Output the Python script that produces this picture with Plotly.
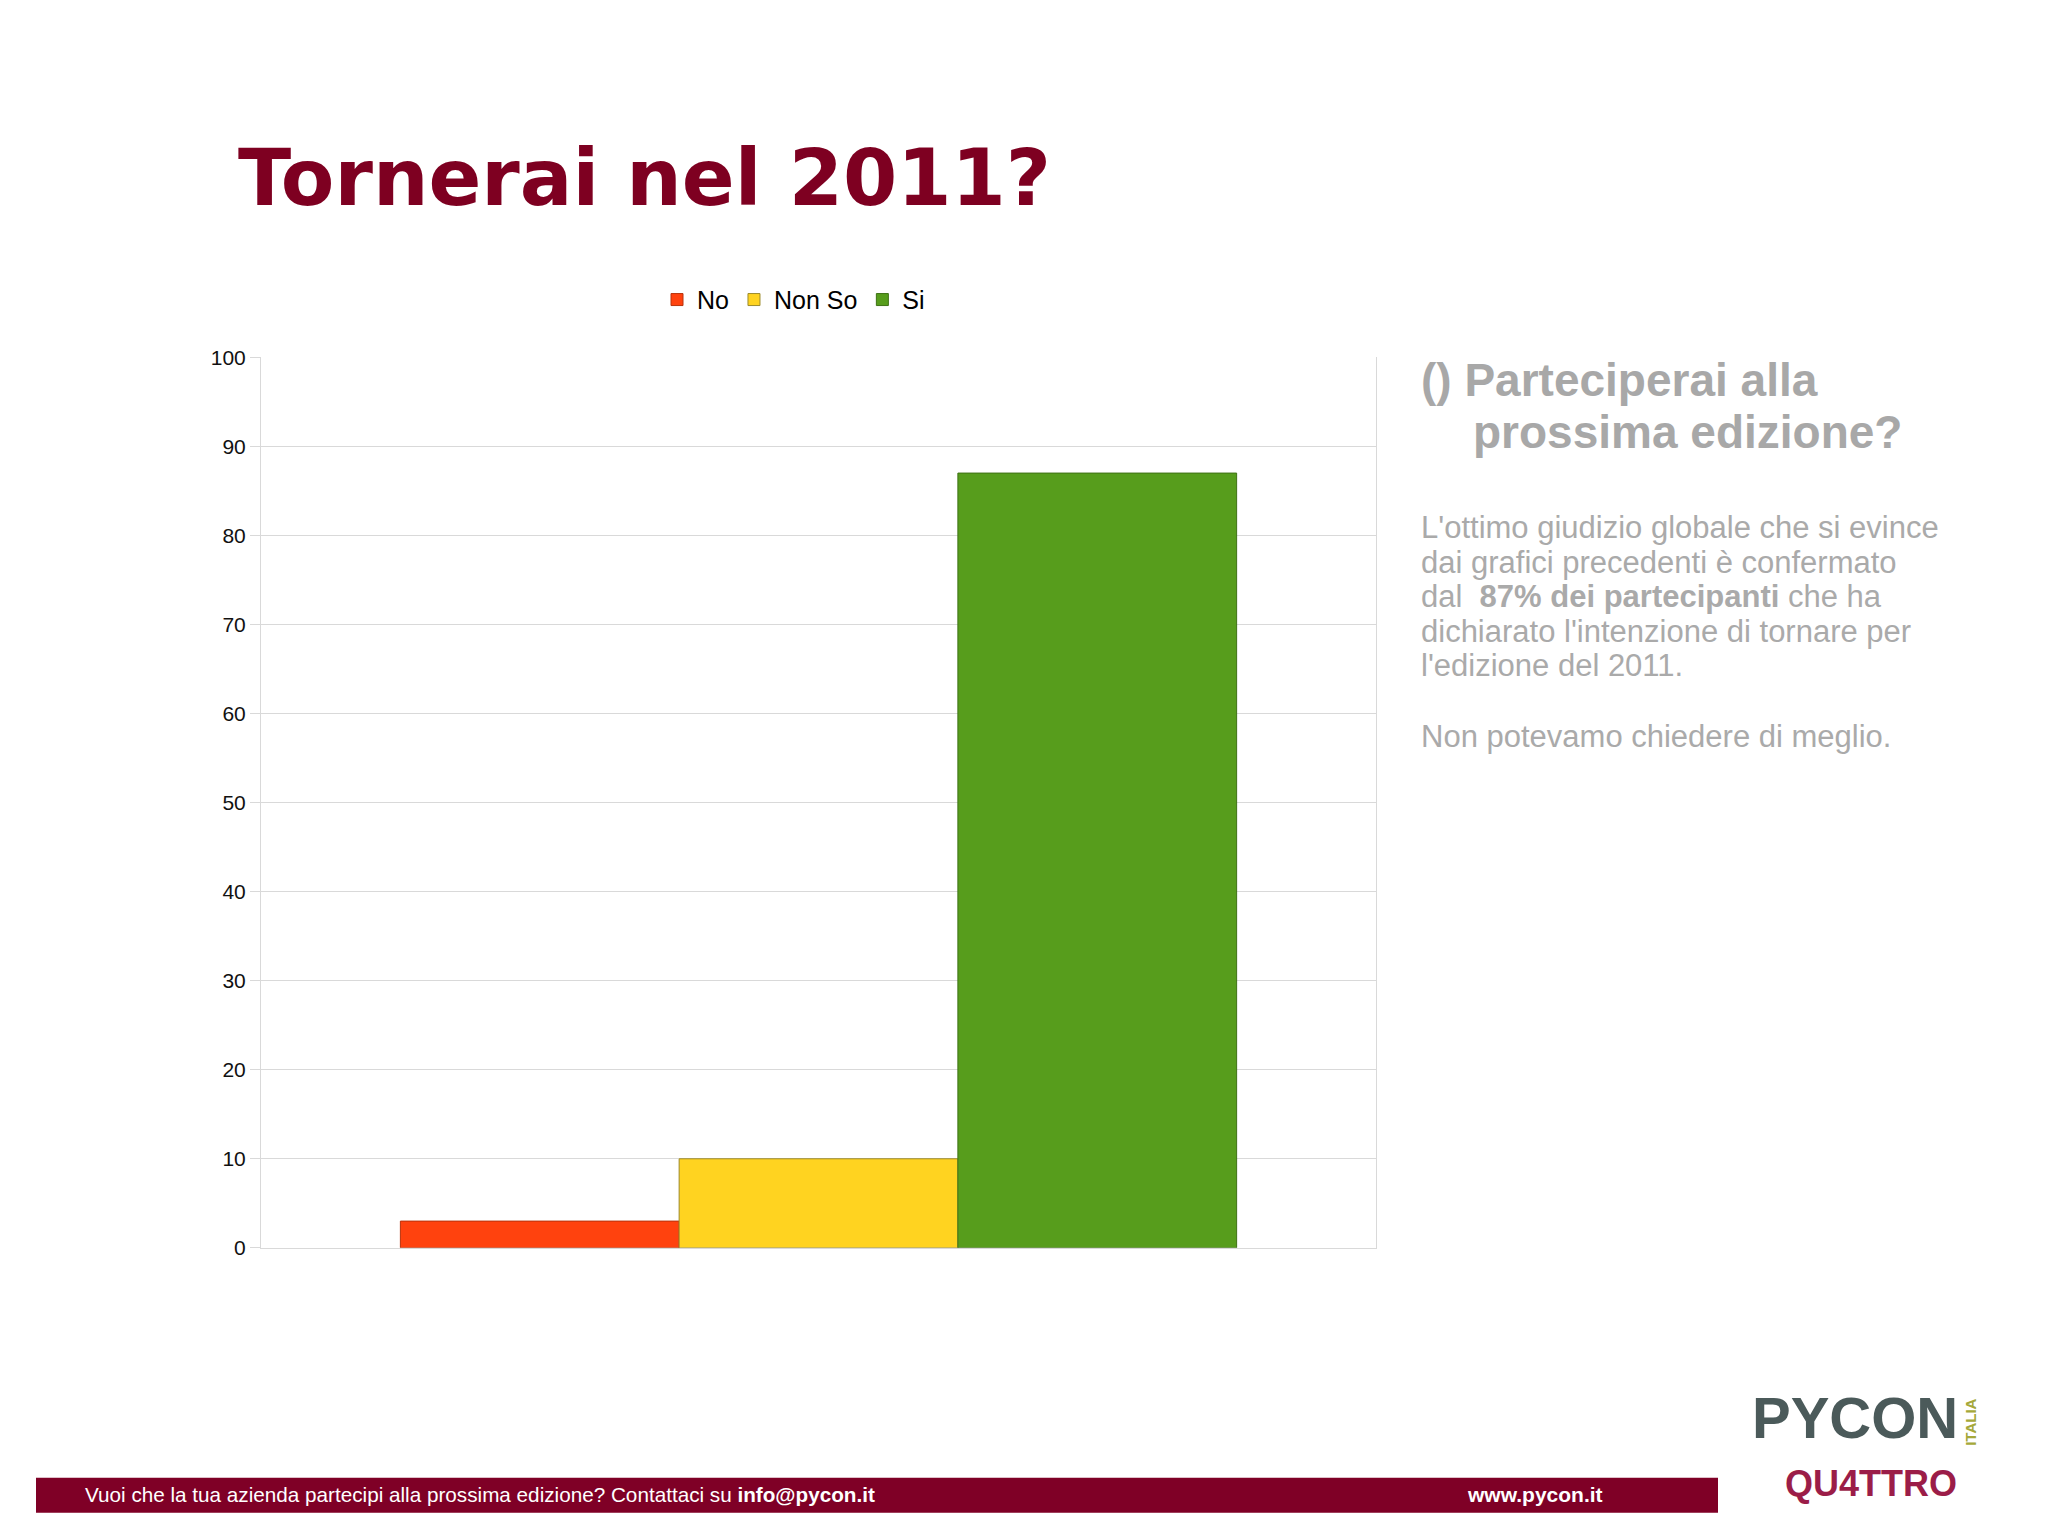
import plotly.graph_objects as go

# ---------------- data ----------------
categories = ["Tornerai nel 2011?"]
series_names = ["No", "Non So", "Si"]
series_values = [[3], [10], [87]]
series_colors = ["#FF420E", "#FFD320", "#579D1C"]
series_edges = ["#b8330c", "#9c8a2c", "#3e7214"]
y_tick_values = [0, 10, 20, 30, 40, 50, 60, 70, 80, 90, 100]
y_tick_labels = [str(v) for v in y_tick_values]

# ---------------- page geometry helpers ----------------
W, H = 2048, 1535
# measured vertical calibration of the rendered page
CAL_A, CAL_B = 11.2, 0.985


def px(x):
    return x / W


def py(y):
    return 1 - ((y - CAL_A) / CAL_B) / H


fig = go.Figure()
for name, vals, col, edge in zip(series_names, series_values, series_colors, series_edges):
    fig.add_trace(go.Bar(
        x=categories, y=vals, name=name,
        marker=dict(color=col, line=dict(color=edge, width=1)),
        hoverinfo="name+y",
    ))

GRID = "#d9d9d9"
TITLE_COL = "#7E0021"
GRAY = "#aaaaaa"
SANS = "Liberation Sans, Arial, sans-serif"

fig.update_layout(
    width=W, height=H,
    margin=dict(l=0, r=0, t=0, b=0, pad=0),
    paper_bgcolor="#ffffff", plot_bgcolor="#ffffff",
    barmode="group", bargap=0.25, bargroupgap=0,
    font=dict(family=SANS, color="#000000"),
    showlegend=True,
    legend=dict(
        orientation="h", x=px(657), xanchor="left", y=py(299), yanchor="middle",
        font=dict(size=25, family=SANS, color="#000000"),
        bgcolor="rgba(0,0,0,0)", traceorder="normal",
    ),
    xaxis=dict(
        domain=[px(261), px(1376)], type="category",
        showticklabels=False, showgrid=False, zeroline=False,
        showline=True, linecolor=GRID, linewidth=1, ticks="",
    ),
    yaxis=dict(
        domain=[py(1247), py(356.5)], range=[0, 100],
        tickvals=y_tick_values, ticktext=y_tick_labels,
        showgrid=True, gridcolor=GRID, gridwidth=1, zeroline=False,
        showline=True, linecolor=GRID, linewidth=1, mirror=True,
        ticks="outside", ticklen=10, tickcolor=GRID, tickwidth=1,
        tickfont=dict(size=21, family=SANS, color="#111111"),
    ),
)

ann = []


def text(x, y, s, size, color, family=SANS, xanchor="left", angle=0):
    ann.append(dict(
        x=px(x), y=py(y), xref="paper", yref="paper", text=s, showarrow=False,
        xanchor=xanchor, yanchor="middle", textangle=angle,
        font=dict(size=size, color=color, family=family), align="left",
    ))


# Slide title
text(236, 177.6, "<b>Tornerai nel 2011?</b>", 78, TITLE_COL, family="DejaVu Sans, sans-serif")

# Right-hand text block
text(1419, 378.7, "<b>() Parteciperai alla</b>", 46, "#a8a8a8")
text(1471, 431, "<b>prossima edizione?</b>", 46, "#a8a8a8")
body = [
    (526.3, "L'ottimo giudizio globale che si evince"),
    (561.6, "dai grafici precedenti è confermato"),
    (595.5, "dal\u00a0\u00a0<b>87% dei partecipanti</b> che ha"),
    (630.8, "dichiarato l'intenzione di tornare per"),
    (664.8, "l'edizione del 2011."),
    (735.3, "Non potevamo chiedere di meglio."),
]
for yy, s in body:
    text(1419, yy, s, 31, GRAY)

# Footer bar
fig.add_shape(type="rect", xref="paper", yref="paper",
              x0=px(36), x1=px(1718), y0=py(1512), y1=py(1477),
              fillcolor="#7F0026", line=dict(width=0), layer="below")
text(83, 1494, "Vuoi che la tua azienda partecipi alla prossima edizione? Contattaci su <b>info@pycon.it</b>",
     20.7, "#ffffff")
text(1465, 1494, "<b>www.pycon.it</b>", 21, "#ffffff")

# Logo
text(1855, 1417, "<b>PYCON</b>", 58, "#4b5a5a", xanchor="center")
text(1871, 1483, "<b>QU4TTRO</b>", 36, "#9b1d48", xanchor="center")
text(1971, 1422, "<b>ITALIA</b>", 15, "#a5a83a", xanchor="center", angle=-90)

fig.update_layout(annotations=ann)

fig.write_html(
    "out.html",
    config={"displayModeBar": False},
    post_script="document.body.style.margin='0px';document.body.style.overflow='hidden';",
)
